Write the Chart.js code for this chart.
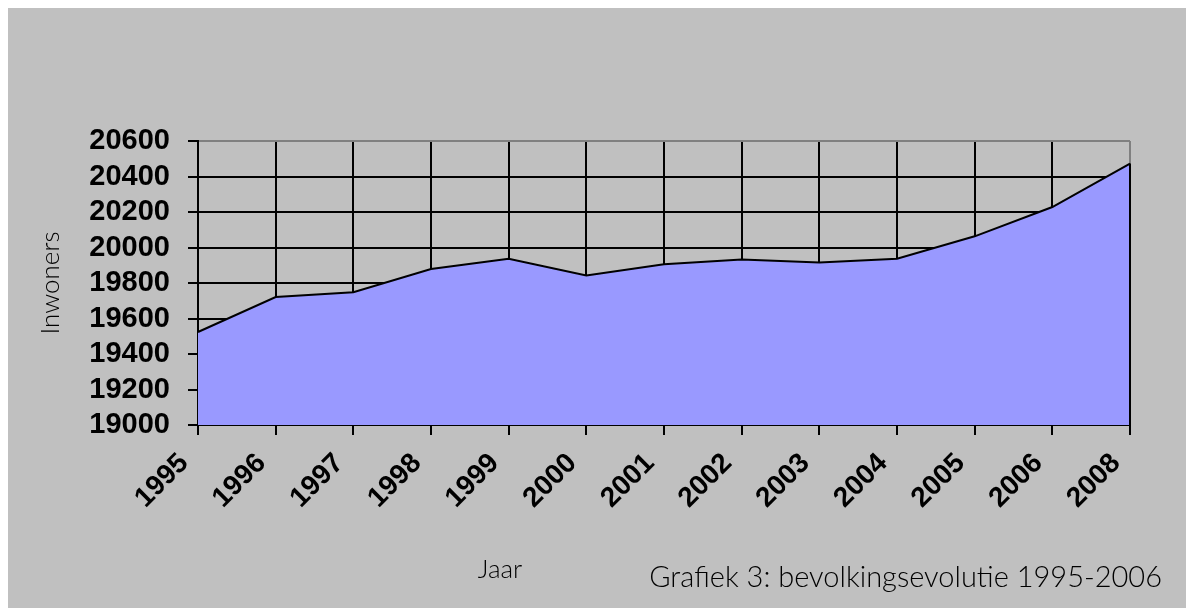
<!DOCTYPE html>
<html>
<head>
<meta charset="utf-8">
<script src="https://cdn.jsdelivr.net/npm/chart.js@4/dist/chart.umd.min.js"></script>
<style>
  html, body { margin: 0; padding: 0; background: #ffffff; }
  #wrap { width: 1186px; height: 608px; }
</style>
</head>
<body>
<div id="wrap"><canvas id="chart" width="1186" height="608"></canvas></div>
<script>
const years = ["1995", "1996", "1997", "1998", "1999", "2000", "2001", "2002", "2003", "2004", "2005", "2006", "2008"];
const inwoners = [19524, 19721, 19748, 19879, 19937, 19842, 19905, 19933, 19915, 19937, 20063, 20228, 20473];
const yMin = 19000;
const yMax = 20600;
const yStep = 200;

const yTitle = "Inwoners";
const xTitle = "Jaar";
const caption = "Grafiek 3: bevolkingsevolutie 1995-2006";

const thinFont = "Lato, 'Open Sans', 'DejaVu Sans', sans-serif";
const boldFont = "'Liberation Sans', Arial, sans-serif";

// grey sheet behind everything + the loose texts
const decor = {
  id: "decor",
  beforeDraw(chart) {
    const c = chart.ctx;
    c.save();
    c.fillStyle = "#ffffff";
    c.fillRect(0, 0, chart.width, chart.height);
    c.fillStyle = "#c0c0c0";
    c.fillRect(8, 8, chart.width - 8, chart.height - 8);
    c.restore();
  },
  afterDraw(chart) {
    const c = chart.ctx;
    const xs = chart.scales.x;
    const ys = chart.scales.y;
    const area = chart.chartArea;
    c.save();
    // right edge of the area series
    const lastX = xs.getPixelForValue(years.length - 1);
    c.strokeStyle = "#000000";
    c.lineWidth = 2;
    c.beginPath();
    c.moveTo(lastX, ys.getPixelForValue(inwoners[inwoners.length - 1]));
    c.lineTo(lastX, area.bottom);
    c.stroke();

    c.fillStyle = "#000000";
    c.font = "300 26px " + thinFont;
    c.textAlign = "center";
    c.textBaseline = "middle";
    c.save();
    c.translate(51, (area.top + area.bottom) / 2);
    c.rotate(-Math.PI / 2);
    c.fillText(yTitle, 0, 0);
    c.restore();

    c.fillText(xTitle, 500, 570);

    c.font = "300 29px " + thinFont;
    c.textAlign = "right";
    c.fillText(caption, 1162, 578);
    c.restore();
  }
};

new Chart(document.getElementById("chart"), {
  type: "line",
  data: {
    labels: years,
    datasets: [
      {
        label: yTitle,
        data: inwoners,
        fill: "start",
        backgroundColor: "#9999ff",
        borderColor: "#000000",
        borderWidth: 2,
        pointRadius: 0,
        tension: 0,
      },
    ],
  },
  options: {
    responsive: false,
    animation: false,
    layout: { padding: { top: 141, right: 56, left: 0, bottom: 0 } },
    plugins: {
      legend: { display: false },
      tooltip: { enabled: false },
    },
    scales: {
      x: {
        offset: false,
        grid: {
          color: (ctx) => (ctx.index === years.length - 1 ? "#808080" : "#000000"),
          lineWidth: 2,
          tickLength: 10,
          tickColor: "#000000",
        },
        border: { color: "#000000", width: 2 },
        ticks: {
          color: "#000000",
          font: { family: boldFont, size: 28, weight: "bold" },
          maxRotation: 45,
          minRotation: 45,
          padding: 12,
          labelOffset: -14,
          autoSkip: false,
        },
        afterFit: (scale) => { scale.height = 608 - 425; },
      },
      y: {
        min: yMin,
        max: yMax,
        grid: {
          color: (ctx) => (ctx.tick && ctx.tick.value === yMax ? "#808080" : "#000000"),
          lineWidth: 2,
          tickLength: 10,
          tickColor: "#000000",
        },
        border: { color: "#000000", width: 2 },
        ticks: {
          stepSize: yStep,
          autoSkip: false,
          callback: (v) => String(v),
          color: "#000000",
          font: { family: boldFont, size: 29, weight: "bold" },
          padding: 18,
        },
        afterFit: (scale) => { scale.width = 198; },
      },
    },
  },
  plugins: [decor],
});
</script>
</body>
</html>
